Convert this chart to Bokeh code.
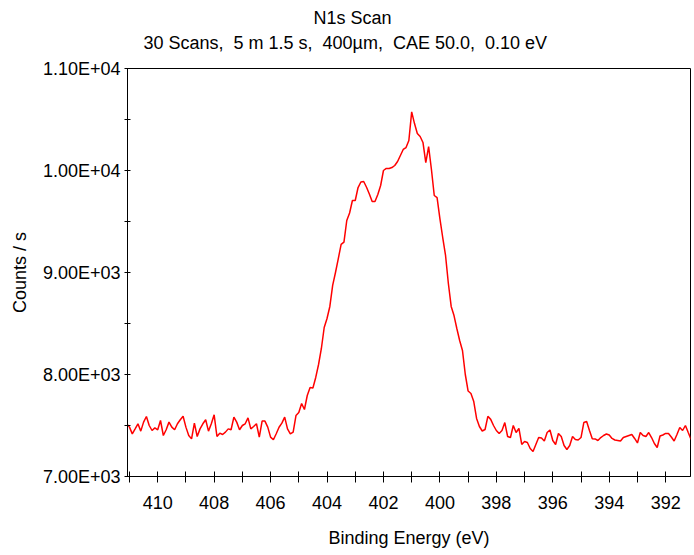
import numpy as np
from bokeh.plotting import figure
from bokeh.models import Range1d, FixedTicker, Title
from bokeh.embed import file_html
from bokeh.resources import INLINE

# ---- data -------------------------------------------------------------
NB = "\u00a0"
title_main = "N1s Scan"
title_sub = ("30 Scans," + NB + " 5 m 1.5 s," + NB + " 400\u00b5m," + NB +
             " CAE 50.0," + NB + " 0.10 eV")
x_label = "Binding Energy (eV)"
y_label = "Counts / s"

energy_start = 411.1   # eV, first channel
energy_step = -0.1     # eV per channel

counts = [
    7517, 7484, 7418, 7467, 7517, 7445, 7533, 7588, 7500, 7451,
    7477, 7458, 7549, 7402, 7458, 7533, 7484, 7458, 7517, 7556,
    7591, 7484, 7402, 7369, 7523, 7392, 7467, 7517, 7556, 7445,
    7517, 7605, 7392, 7425, 7412, 7435, 7467, 7458, 7582, 7533,
    7458, 7500, 7517, 7575, 7467, 7490, 7517, 7386, 7543, 7543,
    7484, 7386, 7360, 7419, 7483, 7523, 7582, 7467, 7418, 7435,
    7598, 7627, 7716, 7657, 7794, 7873, 7868, 7971, 8098, 8255,
    8461, 8549, 8667, 8873, 9000, 9137, 9275, 9297, 9510, 9583,
    9706, 9706, 9833, 9887, 9892, 9836, 9770, 9696, 9696, 9765,
    9853, 10000, 10020, 10020, 10029, 10049, 10088, 10147, 10206, 10225,
    10294, 10575, 10460, 10363, 10333, 10275, 10078, 10235, 10010, 9755,
    9735, 9529, 9343, 9167, 8892, 8667, 8578, 8451, 8333, 8235,
    8000, 7838, 7814, 7735, 7569, 7490, 7446, 7461, 7590, 7560,
    7500, 7451, 7422, 7451, 7529, 7392, 7382, 7500, 7431, 7471,
    7314, 7343, 7333, 7275, 7245, 7314, 7382, 7377, 7348, 7431,
    7456, 7353, 7314, 7422, 7392, 7304, 7265, 7304, 7392, 7363,
    7358, 7382, 7529, 7539, 7451, 7370, 7368, 7353, 7382, 7402,
    7417, 7407, 7373, 7358, 7353, 7348, 7382, 7392, 7402, 7412,
    7373, 7329, 7431, 7402, 7392, 7431, 7382, 7324, 7284, 7397,
    7407, 7422, 7422, 7387, 7348, 7412, 7480, 7451, 7500, 7431,
    7363,
]

x_major_ticks = [410, 408, 406, 404, 402, 400, 398, 396, 394, 392]
x_minor_ticks = [411, 409, 407, 405, 403, 401, 399, 397, 395, 393, 391]
y_major_ticks = [7000, 8000, 9000, 10000, 11000]
y_tick_labels = ["7.00E+03", "8.00E+03", "9.00E+03", "1.00E+04", "1.10E+04"]
y_minor_ticks = [7500, 8500, 9500, 10500]

x_limits = (411.07, 391.12)
y_limits = (7000, 11000)

# ---- figure -----------------------------------------------------------
energy = np.round(energy_start + energy_step * np.arange(len(counts)), 2)

FONT = "Liberation Sans"
FS = "18px"

p = figure(width=692, height=553, output_backend="svg", toolbar_location=None,
           x_range=Range1d(*x_limits), y_range=Range1d(*y_limits),
           min_border_left=127, min_border_right=2, min_border_top=68,
           min_border_bottom=77)
p.background_fill_color = "white"
p.border_fill_color = "white"
p.outline_line_color = "black"
p.outline_line_width = 1
p.outline_line_alpha = 1
p.grid.visible = False

p.add_layout(Title(text=title_sub, align="left", offset=16, text_font=FONT,
                   text_font_size=FS, text_font_style="normal",
                   standoff=32, text_color="black"), "above")
p.add_layout(Title(text=title_main, align="left", offset=186, text_font=FONT,
                   text_font_size=FS, text_font_style="normal",
                   standoff=-26, text_color="black"), "above")

p.line(energy, counts, line_color="#ff0000", line_width=1.5)

xa = p.xaxis[0]
xa.ticker = FixedTicker(ticks=x_major_ticks, minor_ticks=x_minor_ticks)
xa.axis_label = x_label
ya = p.yaxis[0]
ya.ticker = FixedTicker(ticks=y_major_ticks, minor_ticks=y_minor_ticks)
ya.major_label_overrides = {t: s for t, s in zip(y_major_ticks, y_tick_labels)}
ya.axis_label = y_label

for ax in (xa, ya):
    ax.axis_line_color = "black"
    ax.major_tick_line_color = "black"
    ax.minor_tick_line_color = "black"
    ax.major_label_text_font = FONT
    ax.major_label_text_font_size = FS
    ax.major_label_text_color = "black"
    ax.axis_label_text_font = FONT
    ax.axis_label_text_font_size = FS
    ax.axis_label_text_font_style = "normal"
    ax.axis_label_text_color = "black"

xa.major_tick_in = 5
xa.major_tick_out = 6
xa.minor_tick_in = 5
xa.minor_tick_out = 6
xa.major_label_standoff = 13
xa.axis_label_standoff = 16

ya.major_tick_in = 3
ya.major_tick_out = 3
ya.minor_tick_in = 3
ya.minor_tick_out = 3
ya.major_label_standoff = 4
ya.axis_label_standoff = 10

open("out.html", "w").write(file_html(p, INLINE))
